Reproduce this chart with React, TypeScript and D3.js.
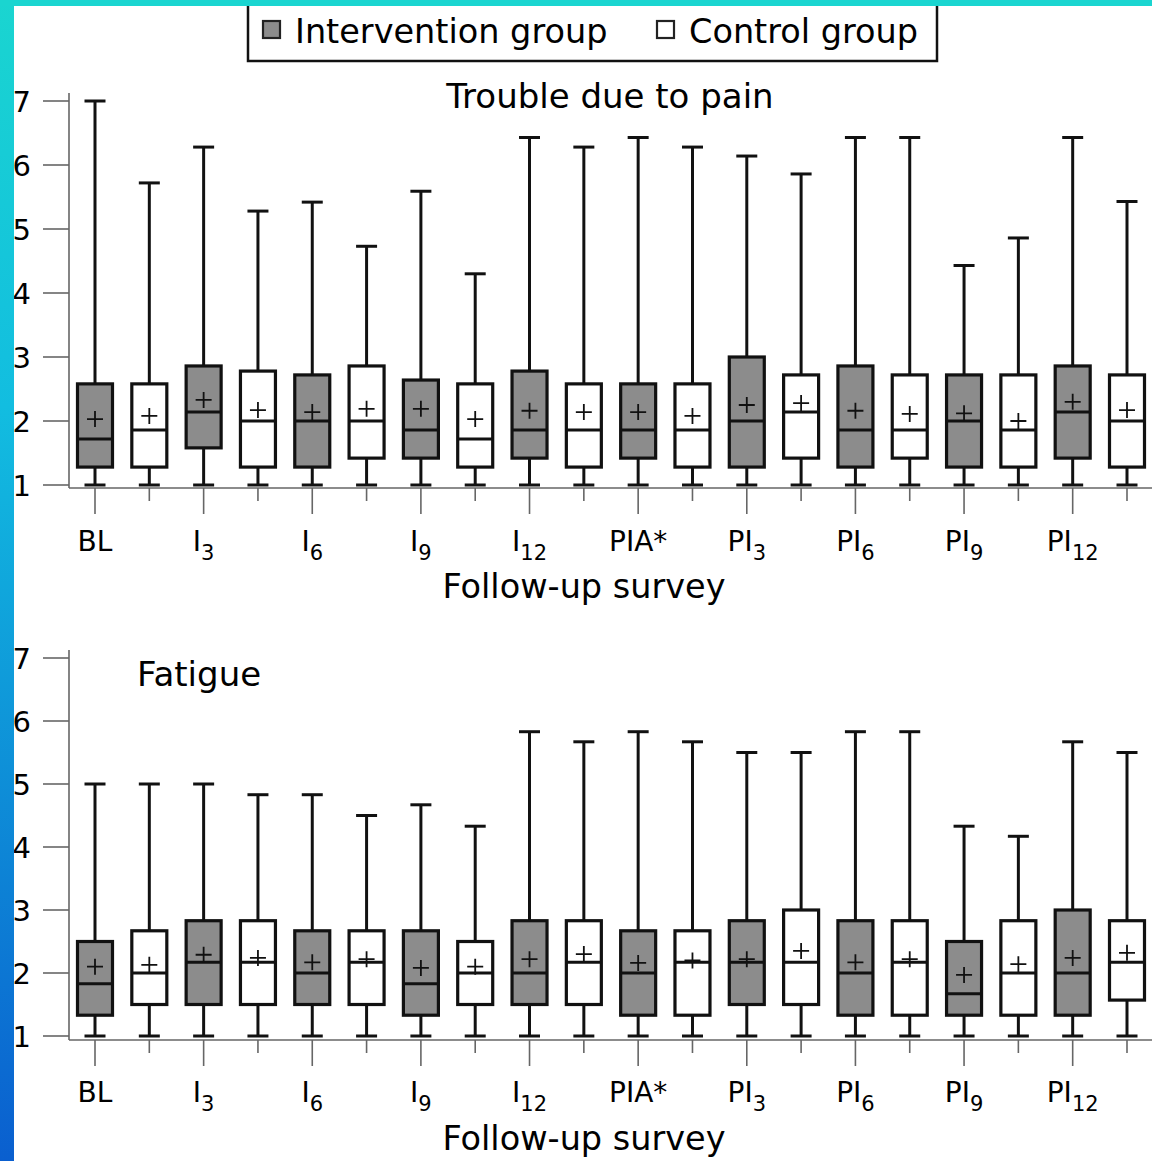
import React, { useEffect, useRef } from 'react';
import * as d3 from 'd3';

// box order: for every survey, intervention then control
const surveys = ['BL', 'I3', 'I6', 'I9', 'I12', 'PIA*', 'PI3', 'PI6', 'PI9', 'PI12'];
const labelBase = ['BL', 'I', 'I', 'I', 'I', 'PIA*', 'PI', 'PI', 'PI', 'PI'];
const labelSub = ['', '3', '6', '9', '12', '', '3', '6', '9', '12'];
const groups = ['Intervention group', 'Control group'];
const yTicks = [1, 2, 3, 4, 5, 6, 7];

// Trouble due to pain
const painHigh = [7.0, 5.72, 6.28, 5.28, 5.42, 4.73, 5.59, 4.3, 6.43, 6.28, 6.43, 6.28, 6.14, 5.86, 6.43, 6.43, 4.43, 4.86, 6.43, 5.43];
const painQ3 = [2.58, 2.58, 2.86, 2.78, 2.72, 2.86, 2.64, 2.58, 2.78, 2.58, 2.58, 2.58, 3.0, 2.72, 2.86, 2.72, 2.72, 2.72, 2.86, 2.72];
const painMedian = [1.72, 1.86, 2.14, 2.0, 2.0, 2.0, 1.86, 1.72, 1.86, 1.86, 1.86, 1.86, 2.0, 2.14, 1.86, 1.86, 2.0, 1.86, 2.14, 2.0];
const painMean = [2.03, 2.08, 2.33, 2.17, 2.14, 2.19, 2.19, 2.03, 2.16, 2.14, 2.14, 2.08, 2.25, 2.28, 2.16, 2.11, 2.12, 2.0, 2.3, 2.17];
const painQ1 = [1.28, 1.28, 1.58, 1.28, 1.28, 1.42, 1.42, 1.28, 1.42, 1.28, 1.42, 1.28, 1.28, 1.42, 1.28, 1.42, 1.28, 1.28, 1.42, 1.28];
const painLow = [1, 1, 1, 1, 1, 1, 1, 1, 1, 1, 1, 1, 1, 1, 1, 1, 1, 1, 1, 1];

// Fatigue
const fatHigh = [5.0, 5.0, 5.0, 4.83, 4.83, 4.5, 4.67, 4.33, 5.83, 5.67, 5.83, 5.67, 5.5, 5.5, 5.83, 5.83, 4.33, 4.17, 5.67, 5.5];
const fatQ3 = [2.5, 2.67, 2.83, 2.83, 2.67, 2.67, 2.67, 2.5, 2.83, 2.83, 2.67, 2.67, 2.83, 3.0, 2.83, 2.83, 2.5, 2.83, 3.0, 2.83];
const fatMedian = [1.83, 2.0, 2.17, 2.17, 2.0, 2.17, 1.83, 2.0, 2.0, 2.17, 2.0, 2.17, 2.17, 2.17, 2.0, 2.17, 1.67, 2.0, 2.0, 2.17];
const fatMean = [2.1, 2.13, 2.29, 2.24, 2.17, 2.22, 2.08, 2.1, 2.22, 2.3, 2.16, 2.2, 2.22, 2.35, 2.17, 2.22, 1.97, 2.14, 2.24, 2.32];
const fatQ1 = [1.33, 1.5, 1.5, 1.5, 1.5, 1.5, 1.33, 1.5, 1.5, 1.5, 1.33, 1.33, 1.5, 1.5, 1.33, 1.33, 1.33, 1.33, 1.33, 1.57];
const fatLow = [1, 1, 1, 1, 1, 1, 1, 1, 1, 1, 1, 1, 1, 1, 1, 1, 1, 1, 1, 1];

const FONT = '"DejaVu Sans", sans-serif';
const GRAY = '#8c8c8c';
const AXIS = '#666';

function App() {
  const ref = useRef(null);

  useEffect(() => {
    const svg = d3.select(ref.current);
    svg.selectAll('*').remove();
    const width = 1152;
    const height = 1161;

    svg.append('rect').attr('width', width).attr('height', height).attr('fill', '#fff');

    const keys = d3.range(surveys.length * 2);
    const x = d3.scalePoint(keys, [95, 1127]);
    const boxW = 35;
    const capW = 21;

    const panels = [
      {
        title: 'Trouble due to pain', titleX: 610, titleY: 108, titleAnchor: 'middle',
        range: [485, 101], axisY: 488, labelY: 551, xTitleY: 598,
        high: painHigh, q3: painQ3, med: painMedian, mean: painMean, q1: painQ1, low: painLow,
      },
      {
        title: 'Fatigue', titleX: 137, titleY: 686, titleAnchor: 'start',
        range: [1036, 658], axisY: 1040, labelY: 1102, xTitleY: 1150,
        high: fatHigh, q3: fatQ3, med: fatMedian, mean: fatMean, q1: fatQ1, low: fatLow,
      },
    ];

    panels.forEach((p) => {
      const y = d3.scaleLinear([1, 7], p.range);
      const g = svg.append('g');

      // y axis
      g.append('line')
        .attr('x1', 69).attr('x2', 69)
        .attr('y1', y(7) - 8).attr('y2', p.axisY)
        .attr('stroke', AXIS).attr('stroke-width', 1.6);
      g.selectAll('.ytick').data(yTicks).join('line')
        .attr('x1', 43).attr('x2', 69)
        .attr('y1', (d) => y(d)).attr('y2', (d) => y(d))
        .attr('stroke', AXIS).attr('stroke-width', 1.6);
      g.selectAll('.ylab').data(yTicks).join('text')
        .attr('x', 31).attr('y', (d) => y(d) + 10.5)
        .attr('text-anchor', 'end')
        .attr('font-family', FONT).attr('font-size', 29)
        .text((d) => d);

      // x axis
      g.append('line')
        .attr('x1', 69).attr('x2', width)
        .attr('y1', p.axisY).attr('y2', p.axisY)
        .attr('stroke', AXIS).attr('stroke-width', 1.6);
      g.selectAll('.xtick').data(keys).join('line')
        .attr('x1', (d) => x(d)).attr('x2', (d) => x(d))
        .attr('y1', p.axisY).attr('y2', (d) => p.axisY + (d % 2 === 0 ? 26 : 13))
        .attr('stroke', AXIS).attr('stroke-width', 1.6);

      const labels = g.selectAll('.xlab').data(surveys).join('text')
        .attr('x', (d, i) => x(i * 2))
        .attr('y', p.labelY)
        .attr('text-anchor', 'middle')
        .attr('font-family', FONT).attr('font-size', 28);
      labels.append('tspan').text((d, i) => labelBase[i]);
      labels.append('tspan')
        .attr('dy', 9).attr('font-size', 21)
        .text((d, i) => labelSub[i]);

      g.append('text')
        .attr('x', 584).attr('y', p.xTitleY)
        .attr('text-anchor', 'middle')
        .attr('font-family', FONT).attr('font-size', 33.5)
        .text('Follow-up survey');

      g.append('text')
        .attr('x', p.titleX).attr('y', p.titleY)
        .attr('text-anchor', p.titleAnchor)
        .attr('font-family', FONT).attr('font-size', 34)
        .text(p.title);

      // boxes
      const box = g.selectAll('.box').data(keys).join('g')
        .attr('transform', (d) => `translate(${x(d)},0)`);

      box.append('line')
        .attr('y1', (d) => y(p.high[d])).attr('y2', (d) => y(p.q3[d]))
        .attr('stroke', '#111').attr('stroke-width', 3);
      box.append('line')
        .attr('y1', (d) => y(p.q1[d])).attr('y2', (d) => y(p.low[d]))
        .attr('stroke', '#111').attr('stroke-width', 3);
      ['high', 'low'].forEach((k) => {
        box.append('line')
          .attr('x1', -capW / 2).attr('x2', capW / 2)
          .attr('y1', (d) => y(p[k][d])).attr('y2', (d) => y(p[k][d]))
          .attr('stroke', '#111').attr('stroke-width', 3);
      });
      box.append('rect')
        .attr('x', -boxW / 2).attr('width', boxW)
        .attr('y', (d) => y(p.q3[d]))
        .attr('height', (d) => y(p.q1[d]) - y(p.q3[d]))
        .attr('fill', (d) => (d % 2 === 0 ? GRAY : '#fff'))
        .attr('stroke', '#111').attr('stroke-width', 3.2);
      box.append('line')
        .attr('x1', -boxW / 2).attr('x2', boxW / 2)
        .attr('y1', (d) => y(p.med[d])).attr('y2', (d) => y(p.med[d]))
        .attr('stroke', '#111').attr('stroke-width', 3);
      box.append('path')
        .attr('d', (d) => `M-8,${y(p.mean[d])}H8M0,${y(p.mean[d]) - 8}V${y(p.mean[d]) + 8}`)
        .attr('stroke', '#111').attr('stroke-width', 1.8);
    });

    // legend
    const lg = svg.append('g');
    lg.append('rect')
      .attr('x', 248).attr('y', 2).attr('width', 689).attr('height', 59)
      .attr('fill', '#fff').attr('stroke', '#111').attr('stroke-width', 2.5);
    const legendX = [263, 657];
    groups.forEach((name, i) => {
      lg.append('rect')
        .attr('x', legendX[i]).attr('y', 21).attr('width', 17).attr('height', 17)
        .attr('fill', i === 0 ? GRAY : '#fff')
        .attr('stroke', '#222').attr('stroke-width', 2.2);
      lg.append('text')
        .attr('x', legendX[i] + 32).attr('y', 43)
        .attr('font-family', FONT).attr('font-size', 33.5)
        .text(name);
    });

    // frame stripes
    const defs = svg.append('defs');
    const grad = defs.append('linearGradient')
      .attr('id', 'stripe').attr('x1', 0).attr('x2', 0).attr('y1', 0).attr('y2', 1);
    grad.append('stop').attr('offset', '0%').attr('stop-color', '#1ad5d0');
    grad.append('stop').attr('offset', '35%').attr('stop-color', '#12bde0');
    grad.append('stop').attr('offset', '100%').attr('stop-color', '#0a5fcf');
    svg.append('rect').attr('x', 0).attr('y', 0).attr('width', 14).attr('height', height)
      .attr('fill', 'url(#stripe)');
    svg.append('rect').attr('x', 0).attr('y', 0).attr('width', width).attr('height', 6)
      .attr('fill', '#1ad5d0');
  }, []);

  return (
    <svg
      ref={ref}
      width={1152}
      height={1161}
      viewBox="0 0 1152 1161"
      style={{ position: 'absolute', left: 0, top: 0, display: 'block' }}
    />
  );
}

export default App;
